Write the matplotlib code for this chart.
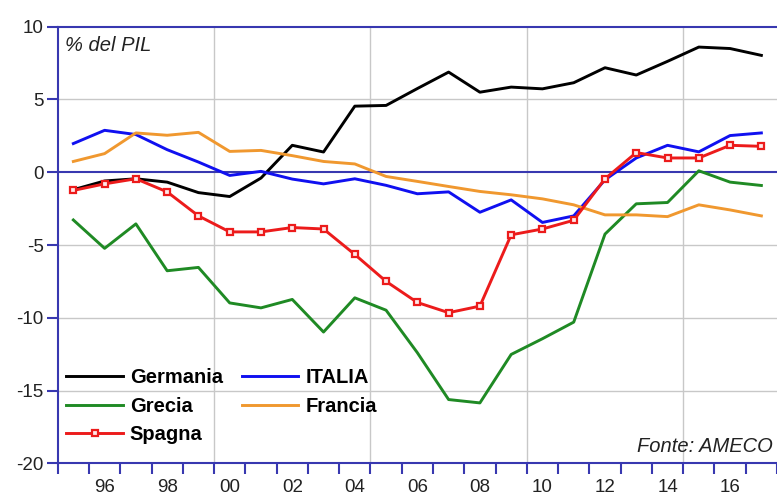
import matplotlib
matplotlib.use("Agg")
import matplotlib.pyplot as plt
from matplotlib.ticker import FixedLocator, NullFormatter

plt.rcParams['font.family'] = ['Liberation Sans', 'DejaVu Sans']

years = list(range(1995, 2018))
germania = [-1.2, -0.6, -0.45, -0.68, -1.4, -1.67, -0.4, 1.85, 1.39, 4.54, 4.59, 5.75, 6.88, 5.5, 5.85, 5.73, 6.15, 7.18, 6.68, 7.62, 8.6, 8.5, 8.03]
italia = [1.97, 2.88, 2.59, 1.55, 0.7, -0.22, 0.06, -0.47, -0.8, -0.45, -0.9, -1.48, -1.35, -2.75, -1.9, -3.45, -3.0, -0.52, 0.98, 1.85, 1.4, 2.52, 2.7]
grecia = [-3.28, -5.23, -3.55, -6.77, -6.54, -8.98, -9.32, -8.74, -10.98, -8.63, -9.48, -12.4, -15.62, -15.85, -12.52, -11.44, -10.3, -4.25, -2.17, -2.08, 0.1, -0.68, -0.91]
francia = [0.74, 1.28, 2.7, 2.54, 2.74, 1.43, 1.5, 1.14, 0.74, 0.57, -0.29, -0.63, -0.98, -1.32, -1.55, -1.83, -2.24, -2.93, -2.93, -3.05, -2.24, -2.59, -3.0]
spagna = [-1.25, -0.8, -0.45, -1.35, -3.0, -4.1, -4.1, -3.8, -3.9, -5.65, -7.5, -8.95, -9.65, -9.2, -4.3, -3.9, -3.3, -0.45, 1.35, 0.98, 0.98, 1.85, 1.78]

xtick_years = list(range(1996, 2017, 2))
xtick_labels = [f"{y % 100:02d}" for y in xtick_years]
yticks = [-20, -15, -10, -5, 0, 5, 10]

fig = plt.figure(figsize=(7.77, 4.98), dpi=100)
ax = fig.add_axes([57.7 / 777, (498 - 463.3) / 498, 1 - 57.7 / 777, (463.3 - 26.7) / 498])

spine_c = '#3838b0'
grid_c = '#c8c8c8'

ax.set_xlim(1994.5, 2017.5)
ax.set_ylim(-20, 10)

# grid
for yv in [-15, -10, -5, 5]:
    ax.axhline(yv, color=grid_c, lw=1.0, zorder=1)
for xv in [1999.5, 2004.5, 2009.5, 2014.5]:
    ax.axvline(xv, color=grid_c, lw=1.0, zorder=1)
ax.axhline(0, color=spine_c, lw=1.5, zorder=2)

lw = 2.1
l1, = ax.plot(years, germania, color='black', lw=lw, label='Germania', zorder=3)
l3, = ax.plot(years, grecia, color='#1f8a24', lw=lw, label='Grecia', zorder=3)
l2, = ax.plot(years, italia, color='#1010f0', lw=lw, label='ITALIA', zorder=3)
l4, = ax.plot(years, francia, color='#f0982f', lw=lw, label='Francia', zorder=3)
l5, = ax.plot(years, spagna, color='#ec1b1b', lw=lw, marker='s', ms=5,
              mfc='#ffe8e8', mec='#ec1b1b', mew=1.6, label='Spagna', zorder=4)

for s in ['left', 'top', 'bottom']:
    ax.spines[s].set_color(spine_c)
    ax.spines[s].set_linewidth(1.5)
ax.spines['right'].set_visible(False)

ax.set_yticks(yticks)
ax.set_yticklabels([str(v) for v in yticks])
ax.tick_params(axis='y', direction='out', length=8, width=1.5, color=spine_c,
               labelsize=13.5, pad=2, labelcolor='#222222')

ax.set_xticks(xtick_years)
ax.set_xticklabels(xtick_labels)
ax.xaxis.set_minor_locator(FixedLocator([y + 0.5 for y in range(1994, 2018)]))
ax.xaxis.set_minor_formatter(NullFormatter())
ax.tick_params(axis='x', which='major', length=0, labelsize=13.5, pad=11, labelcolor='#222222')
ax.tick_params(axis='x', which='minor', direction='out', length=8, width=1.5, color=spine_c)

ax.text(0.010, 0.958, '% del PIL', transform=ax.transAxes, fontsize=14.5,
        style='italic', ha='left', va='center', color='#222222')
ax.text(0.805, 0.026, 'Fonte: AMECO', transform=ax.transAxes, fontsize=14.5,
        style='italic', ha='left', va='baseline', color='#222222')

leg = ax.legend(handles=[l1, l3, l5, l2, l4], ncol=2, frameon=False,
                loc='upper left', bbox_to_anchor=(0.012, 0.218),
                prop={'weight': 'bold', 'size': 14.5}, handlelength=2.8,
                handletextpad=0.35, columnspacing=0.95, labelspacing=0.47,
                borderpad=0, borderaxespad=0)

fig.savefig('out.png', dpi=100)
